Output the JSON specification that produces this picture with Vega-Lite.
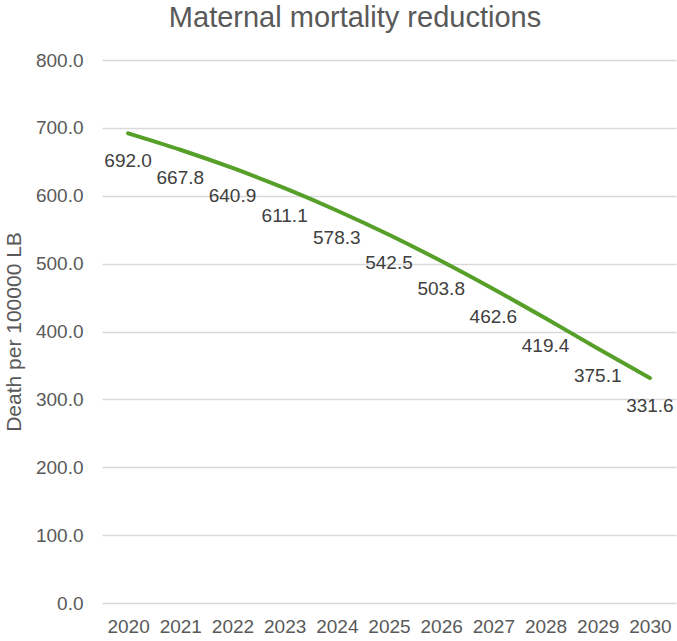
{
  "$schema": "https://vega.github.io/schema/vega-lite/v6.json",
  "width": 574,
  "height": 543,
  "autosize": "none",
  "padding": {"left": 102, "top": 60, "right": 1, "bottom": 38},
  "background": "white",
  "title": {
    "text": "Maternal mortality reductions",
    "font": "Liberation Sans",
    "fontSize": 29,
    "fontWeight": "normal",
    "color": "#595959",
    "anchor": "middle",
    "frame": "group",
    "dx": -34,
    "baseline": "alphabetic",
    "offset": -5
  },
  "data": {
    "values": [
      {"year": "2020", "value": 692.0},
      {"year": "2021", "value": 667.8},
      {"year": "2022", "value": 640.9},
      {"year": "2023", "value": 611.1},
      {"year": "2024", "value": 578.3},
      {"year": "2025", "value": 542.5},
      {"year": "2026", "value": 503.8},
      {"year": "2027", "value": 462.6},
      {"year": "2028", "value": 419.4},
      {"year": "2029", "value": 375.1},
      {"year": "2030", "value": 331.6}
    ]
  },
  "encoding": {
    "x": {
      "field": "year",
      "type": "ordinal",
      "scale": {"type": "point", "padding": 0.5},
      "axis": {
        "title": null,
        "labelAngle": 0,
        "ticks": false,
        "domain": false,
        "labelFont": "Liberation Sans",
        "labelFontSize": 19,
        "labelColor": "#595959",
        "labelPadding": 14,
        "grid": false
      }
    },
    "y": {
      "field": "value",
      "type": "quantitative",
      "scale": {"domain": [0, 800], "nice": false},
      "axis": {
        "values": [0, 100, 200, 300, 400, 500, 600, 700, 800],
        "format": ".1f",
        "title": "Death per 100000 LB",
        "titleFont": "Liberation Sans",
        "titleFontSize": 21,
        "titleFontWeight": "normal",
        "titleColor": "#595959",
        "titlePadding": 11,
        "ticks": false,
        "domain": false,
        "labelFont": "Liberation Sans",
        "labelFontSize": 19,
        "labelColor": "#595959",
        "labelPadding": 19,
        "grid": true,
        "gridColor": "#d9d9d9",
        "gridWidth": 1.5
      }
    }
  },
  "layer": [
    {
      "mark": {"type": "line", "color": "#56A02A", "strokeWidth": 4, "interpolate": "monotone", "strokeCap": "round"}
    },
    {
      "mark": {"type": "text", "dy": 28, "align": "center", "baseline": "middle", "font": "Liberation Sans", "fontSize": 19, "color": "#404040"},
      "encoding": {"text": {"field": "value", "type": "quantitative", "format": ".1f"}}
    }
  ],
  "config": {"view": {"stroke": null}}
}
